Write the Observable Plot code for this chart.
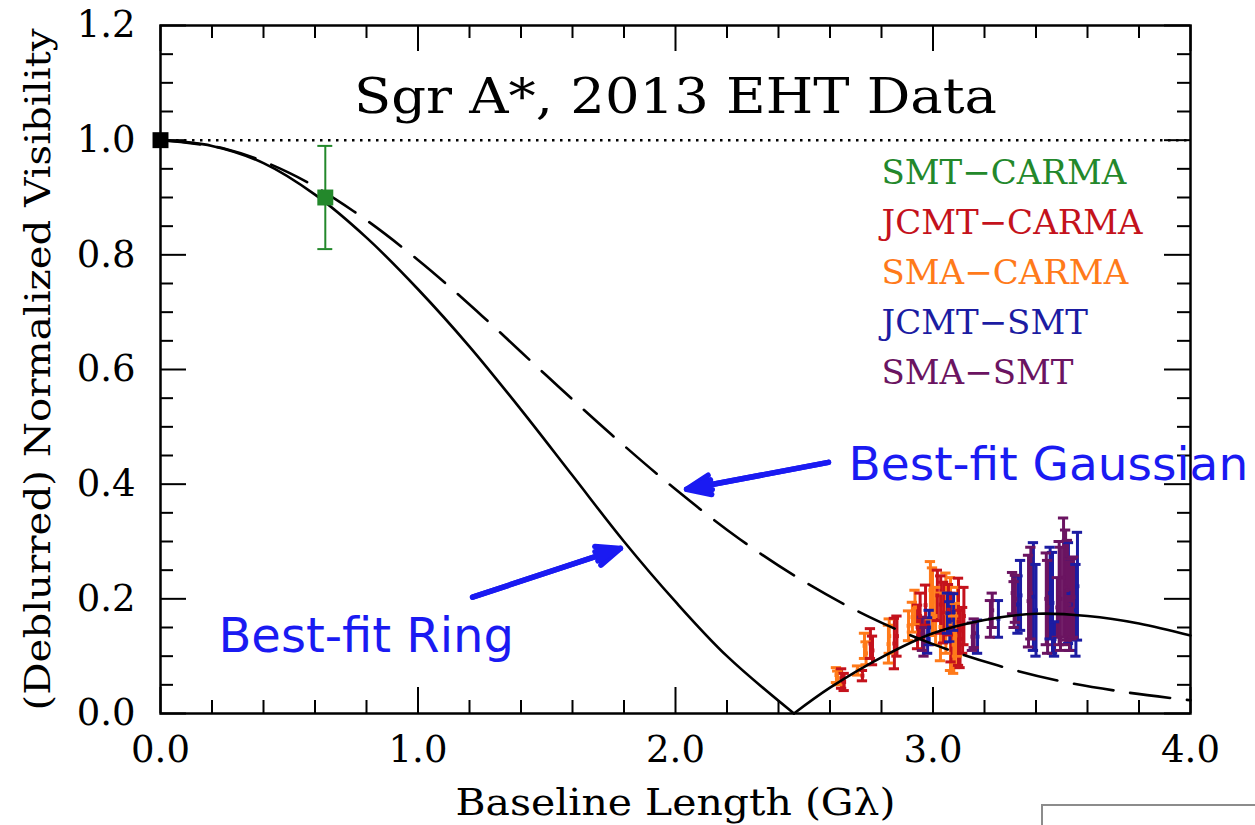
<!DOCTYPE html>
<html>
<head>
<meta charset="utf-8">
<script src="https://cdn.jsdelivr.net/npm/d3@7"></script>
<script src="https://cdn.jsdelivr.net/npm/@observablehq/plot@0.6"></script>
<style>
  html, body { margin: 0; padding: 0; background: #fff; }
  #chart { position: relative; width: 1255px; height: 825px; overflow: hidden; }
  #inset { position: absolute; left: 1041px; top: 804px; width: 260px; height: 60px; border: 2px solid #8c8c8c; box-sizing: border-box; }
  #edge { position: absolute; left: 1221px; top: 722px; width: 40px; height: 70px; background: #fff; }
</style>
</head>
<body>
<div id="chart"><div id="edge"></div><div id="inset"></div></div>
<script>
// ---- Baselines and colours ----
const baselines = ["SMT−CARMA", "JCMT−CARMA", "SMA−CARMA", "JCMT−SMT", "SMA−SMT"];
const baselineColors = ["#23882b", "#c4121c", "#ff7a1a", "#1c1ca2", "#6b1461"];

// ---- Axis ticks ----
const xMajor = [0, 1, 2, 3, 4];
const xMinor = [0.2, 0.4, 0.6, 0.8, 1.2, 1.4, 1.6, 1.8, 2.2, 2.4, 2.6, 2.8, 3.2, 3.4, 3.6, 3.8];
const yMajor = [0, 0.2, 0.4, 0.6, 0.8, 1.0, 1.2];
const yMinor = [0.05, 0.1, 0.15, 0.25, 0.3, 0.35, 0.45, 0.5, 0.55, 0.65, 0.7, 0.75, 0.85, 0.9, 0.95, 1.05, 1.1, 1.15];

// ---- Zero-spacing point (total flux normalisation) ----
const zeroU = [0];
const zeroV = [1.0];

// ---- SMT–CARMA ----
const smtCarmaU = [0.64];
const smtCarmaV = [0.90];
const smtCarmaErr = [0.09];

// ---- JCMT–CARMA ----
const jcmtCarmaU = [2.645, 2.655, 2.726, 2.757, 2.765, 2.850, 2.860, 2.940, 2.950, 2.971, 3.017, 3.030, 3.041, 3.060, 3.070, 3.099, 3.105, 3.115, 3.120];
const jcmtCarmaV = [0.061, 0.055, 0.066, 0.122, 0.110, 0.122, 0.135, 0.151, 0.170, 0.189, 0.206, 0.190, 0.176, 0.181, 0.150, 0.160, 0.130, 0.145, 0.170];
const jcmtCarmaErr = [0.017, 0.015, 0.009, 0.026, 0.025, 0.044, 0.035, 0.038, 0.040, 0.035, 0.044, 0.050, 0.053, 0.044, 0.060, 0.076, 0.050, 0.040, 0.050];

// ---- SMA–CARMA ----
const smaCarmaU = [2.625, 2.630, 2.707, 2.734, 2.740, 2.827, 2.830, 2.905, 2.920, 2.930, 2.990, 2.998, 3.010, 3.029, 3.050, 3.068, 3.080, 3.087, 3.095];
const smaCarmaV = [0.067, 0.062, 0.075, 0.118, 0.105, 0.121, 0.135, 0.153, 0.168, 0.185, 0.215, 0.195, 0.170, 0.151, 0.175, 0.156, 0.120, 0.136, 0.160];
const smaCarmaErr = [0.013, 0.012, 0.008, 0.022, 0.020, 0.033, 0.030, 0.026, 0.026, 0.030, 0.050, 0.059, 0.050, 0.059, 0.070, 0.081, 0.050, 0.056, 0.060];

// ---- JCMT–SMT ----
const jcmtSmtU = [2.979, 2.985, 3.056, 3.065, 3.080, 3.173, 3.254, 3.330, 3.340, 3.390, 3.400, 3.455, 3.464, 3.472, 3.526, 3.535, 3.555, 3.561];
const jcmtSmtV = [0.136, 0.150, 0.175, 0.160, 0.177, 0.134, 0.165, 0.190, 0.206, 0.204, 0.180, 0.210, 0.193, 0.130, 0.210, 0.190, 0.180, 0.222];
const jcmtSmtErr = [0.031, 0.030, 0.035, 0.035, 0.032, 0.029, 0.032, 0.050, 0.061, 0.094, 0.080, 0.080, 0.088, 0.030, 0.088, 0.080, 0.080, 0.094];

// ---- SMA–SMT ----
const smaSmtU = [2.959, 2.965, 3.153, 3.160, 3.223, 3.230, 3.309, 3.315, 3.320, 3.371, 3.380, 3.440, 3.445, 3.483, 3.490, 3.495, 3.507, 3.515, 3.522, 3.530, 3.540, 3.546];
const smaSmtV = [0.139, 0.125, 0.134, 0.140, 0.165, 0.180, 0.210, 0.190, 0.200, 0.196, 0.210, 0.200, 0.186, 0.185, 0.210, 0.200, 0.237, 0.220, 0.215, 0.190, 0.200, 0.203];
const smaSmtErr = [0.029, 0.025, 0.024, 0.025, 0.032, 0.030, 0.036, 0.040, 0.041, 0.080, 0.080, 0.080, 0.081, 0.052, 0.090, 0.090, 0.104, 0.100, 0.087, 0.080, 0.070, 0.070];

// ---- Model curves ----
const gaussU = [0, 0.25, 0.5, 0.75, 1.0, 1.25, 1.5, 1.75, 2.0, 2.25, 2.5, 2.75, 3.0, 3.25, 3.5, 3.75, 4.0];
const gaussV = [1.0, 0.985, 0.943, 0.876, 0.791, 0.693, 0.589, 0.487, 0.391, 0.304, 0.230, 0.169, 0.121, 0.084, 0.056, 0.037, 0.023];

const ringInnerU = [0, 0.2, 0.4, 0.6, 0.8, 1.0, 1.2, 1.4, 1.6, 1.8, 2.0, 2.2, 2.46];
const ringInnerV = [1.0, 0.99, 0.96, 0.905, 0.83, 0.74, 0.64, 0.53, 0.415, 0.30, 0.195, 0.10, 0.0];
const ringOuterU = [2.46, 2.6, 2.8, 3.0, 3.2, 3.4, 3.6, 3.8, 4.0];
const ringOuterV = [0.0, 0.045, 0.098, 0.14, 0.163, 0.174, 0.17, 0.157, 0.136];

// ---- Text ----
const titleText = "Sgr A*, 2013 EHT Data";
const xLabel = "Baseline Length (Gλ)";
const yLabel = "(Deblurred) Normalized Visibility";
const gaussNote = "Best-fit Gaussian";
const ringNote = "Best-fit Ring";

// ---- Tables built from the arrays above ----
const toRows = (name, U, V, E) => U.map((u, i) => ({baseline: name, u, v: V[i], err: E[i]}));
const clusterRows = [
  ...toRows(baselines[2], smaCarmaU, smaCarmaV, smaCarmaErr),
  ...toRows(baselines[1], jcmtCarmaU, jcmtCarmaV, jcmtCarmaErr),
  ...toRows(baselines[3], jcmtSmtU, jcmtSmtV, jcmtSmtErr),
  ...toRows(baselines[4], smaSmtU, smaSmtV, smaSmtErr)
];
const greenRows = toRows(baselines[0], smtCarmaU, smtCarmaV, smtCarmaErr);
const zeroRows = zeroU.map((u, i) => ({u, v: zeroV[i]}));
const gaussRows = gaussU.map((u, i) => ({u, v: gaussV[i]}));
const ringRows = [
  ...ringInnerU.map((u, i) => ({u, v: ringInnerV[i], seg: "inner"})),
  ...ringOuterU.map((u, i) => ({u, v: ringOuterV[i], seg: "outer"}))
];

// Annotation arrows (tail -> head), in data units
const arrows = [
  {x1: 2.594, y1: 0.438, x2: 2.043, y2: 0.391},
  {x1: 1.212, y1: 0.203, x2: 1.786, y2: 0.288}
];

// ---- Layout ----
const W = 1255, H = 825;
const mL = 160, mR = 65, mT = 25, mB = 112;
const plotW = W - mL - mR;
const plotH = H - mT - mB;
const minorLen = 13, majorLen = 26;
const blue = "#1a1af2";
const capSmall = 0.02, capLarge = 0.029;

const errorBars = (rows, cap, width) => [
  Plot.ruleX(rows, {x: "u", y1: d => d.v - d.err, y2: d => d.v + d.err, stroke: "baseline", strokeWidth: width}),
  Plot.ruleY(rows, {y: d => d.v - d.err, x1: d => d.u - cap, x2: d => d.u + cap, stroke: "baseline", strokeWidth: width}),
  Plot.ruleY(rows, {y: d => d.v + d.err, x1: d => d.u - cap, x2: d => d.u + cap, stroke: "baseline", strokeWidth: width})
];

const chart = Plot.plot({
  width: W,
  height: H,
  marginLeft: mL,
  marginRight: mR,
  marginTop: mT,
  marginBottom: mB,
  x: {domain: [0, 4]},
  y: {domain: [0, 1.2]},
  color: {domain: baselines, range: baselineColors},
  style: {fontFamily: "DejaVu Serif", background: "white", color: "black"},
  marks: [
    // tick labels
    Plot.axisX({ticks: xMajor, tickSize: 0, tickPadding: 22, tickFormat: d => d.toFixed(1), fontSize: 37, label: null}),
    Plot.axisY({ticks: yMajor, tickSize: 0, tickPadding: 25, tickFormat: d => d.toFixed(1), fontSize: 37, label: null}),

    // inward ticks on all four sides
    Plot.tickX(xMinor, {x: d => d, insetTop: plotH - minorLen, strokeWidth: 2}),
    Plot.tickX(xMajor, {x: d => d, insetTop: plotH - majorLen, strokeWidth: 2}),
    Plot.tickX(xMinor, {x: d => d, insetBottom: plotH - minorLen, strokeWidth: 2}),
    Plot.tickX(xMajor, {x: d => d, insetBottom: plotH - majorLen, strokeWidth: 2}),
    Plot.tickY(yMinor, {y: d => d, insetRight: plotW - minorLen, strokeWidth: 2}),
    Plot.tickY(yMajor, {y: d => d, insetRight: plotW - majorLen, strokeWidth: 2}),
    Plot.tickY(yMinor, {y: d => d, insetLeft: plotW - minorLen, strokeWidth: 2}),
    Plot.tickY(yMajor, {y: d => d, insetLeft: plotW - majorLen, strokeWidth: 2}),

    // unit visibility reference
    Plot.ruleY([1], {strokeDasharray: "2.5,5.5", strokeWidth: 2.5}),

    // long-baseline measurements
    ...errorBars(clusterRows, capSmall, 3),
    Plot.dot(clusterRows, {x: "u", y: "v", symbol: "square", r: 2.2, fill: "baseline"}),

    // model curves
    Plot.line(gaussRows, {x: "u", y: "v", strokeWidth: 2.6, strokeDasharray: "40,17", curve: "catmull-rom"}),
    Plot.line(ringRows, {x: "u", y: "v", z: "seg", strokeWidth: 2.6, curve: "catmull-rom"}),

    // short-baseline and zero-spacing points
    ...errorBars(greenRows, capLarge, 2),
    Plot.dot(greenRows, {x: "u", y: "v", symbol: "square", r: 9, fill: "baseline"}),
    Plot.dot(zeroRows, {x: "u", y: "v", symbol: "square", r: 9, fill: "black"}),

    Plot.frame({strokeWidth: 2.5}),

    // legend
    Plot.text(baselines, {x: 2.8, y: (d, i) => 0.943 - i * 0.0873, text: d => d, fill: d => d, textAnchor: "start", fontSize: 34}),

    // title and axis labels
    Plot.text([titleText], {frameAnchor: "top", dy: 72, lineAnchor: "middle", textAnchor: "middle", fontSize: 48}),
    Plot.text([yLabel], {frameAnchor: "left", dx: -122, rotate: -90, textAnchor: "middle", lineAnchor: "middle", fontSize: 36}),
    Plot.text([xLabel], {frameAnchor: "bottom", dy: 90, textAnchor: "middle", lineAnchor: "middle", fontSize: 37}),

    // annotations
    Plot.arrow(arrows, {x1: "x1", y1: "y1", x2: "x2", y2: "y2", stroke: blue, strokeWidth: 5.5, headAngle: 45, headLength: 7}),
    Plot.arrow(arrows, {x1: "x1", y1: "y1", x2: "x2", y2: "y2", stroke: blue, strokeWidth: 5.5, headAngle: 22, headLength: 7}),
    Plot.text([gaussNote], {x: 2.672, y: 0.433, textAnchor: "start", fill: blue, fontFamily: "DejaVu Sans", fontSize: 47}),
    Plot.text([ringNote], {x: 0.225, y: 0.134, textAnchor: "start", fill: blue, fontFamily: "DejaVu Sans", fontSize: 48})
  ]
});

// Widen the serif captions to the broad lettering of the figure
const stretch = {[titleText]: 643, [xLabel]: 440, [yLabel]: 682};
d3.select(chart).selectAll("text").each(function () {
  const w = stretch[this.textContent];
  if (w) {
    this.setAttribute("textLength", w);
    this.setAttribute("lengthAdjust", "spacingAndGlyphs");
  }
});

document.getElementById("chart").prepend(chart);
</script>
</body>
</html>
